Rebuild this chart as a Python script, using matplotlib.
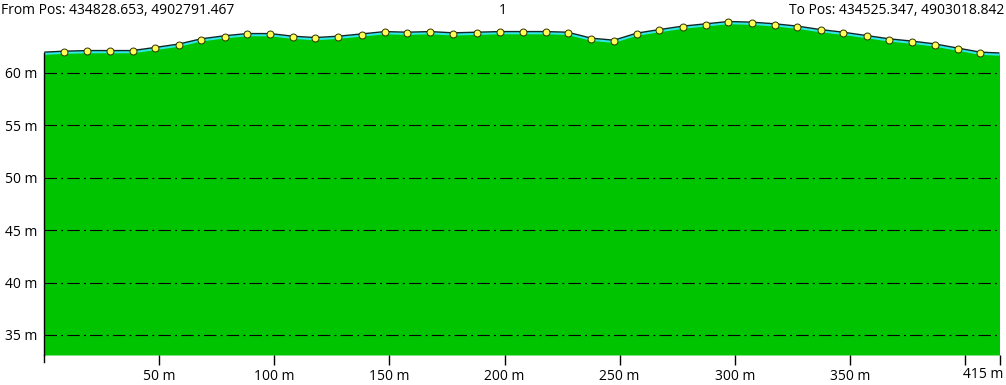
import matplotlib
matplotlib.use("Agg")
import matplotlib.pyplot as plt

# ---- data ----
marker_dist = [8.6, 18.5, 28.6, 38.4, 48.3, 58.4, 68.2, 78.7, 88.2, 98.1,
               108.0, 117.8, 127.8, 138.1, 148.0, 157.7, 167.6, 177.7, 187.9, 198.0,
               207.9, 218.0, 227.4, 237.7, 247.5, 257.4, 267.2, 277.4, 287.5, 297.2,
               307.3, 317.5, 327.2, 337.3, 347.1, 357.3, 367.1, 377.0, 386.8, 397.0, 406.6]
marker_elev = [61.97, 62.03, 62.03, 62.03, 62.33, 62.65, 63.15, 63.45, 63.65, 63.65,
               63.40, 63.27, 63.40, 63.62, 63.84, 63.78, 63.84, 63.72, 63.78, 63.84,
               63.84, 63.84, 63.78, 63.21, 63.02, 63.69, 64.03, 64.36, 64.58, 64.80,
               64.74, 64.58, 64.36, 64.03, 63.78, 63.46, 63.15, 62.93, 62.67, 62.26, 61.88]
start_dist, start_elev = 0.0, 61.88
end_dist, end_elev = 415.0, 61.80

x_ticks = [50, 100, 150, 200, 250, 300, 350, 400, 415]
x_tick_labels = ["50 m", "100 m", "150 m", "200 m", "250 m", "300 m", "350 m", "", ""]
y_grid = [35, 40, 45, 50, 55, 60]
y_labels = ["35 m", "40 m", "45 m", "50 m", "55 m", "60 m"]

title_left = "From Pos: 434828.653, 4902791.467"
title_mid = "1"
title_right = "To Pos: 434525.347, 4903018.842"
end_label = "415 m"

prof_x = [start_dist] + marker_dist + [end_dist]
prof_y = [start_elev] + marker_elev + [end_elev]

plt.rcParams['font.family'] = ['Open Sans', 'DejaVu Sans']
plt.rcParams['lines.scale_dashes'] = False

W, H = 1006, 385
fig = plt.figure(figsize=(W / 100, H / 100), dpi=100)
ax = fig.add_axes([44.2 / W, (H - 355) / H, (999.5 - 44.2) / W, (355 - 15) / H])
ymin, ymax = 33.09, 65.5
ax.set_xlim(0, 415)
ax.set_ylim(ymin, ymax)

green = "#00c400"
ax.fill_between(prof_x, ymin, prof_y, color=green, lw=0, zorder=1)

for g in y_grid:
    ax.plot([0, 415], [g, g], color="black", lw=0.8,
            dashes=(9.0, 3.0, 1.4, 3.0), zorder=2)

ax.plot(prof_x, [v - 0.06 for v in prof_y], color="#30e8e8", lw=1.8, zorder=3,
        solid_capstyle="butt")
ax.plot(prof_x, [v + 0.08 for v in prof_y], color="#102828", lw=1.0, zorder=4,
        solid_capstyle="butt")
ax.plot(marker_dist, marker_elev, ls="none", marker="o", ms=5,
        mfc="#ffff55", mec="#303000", mew=0.7, zorder=5)

# left boundary line
ax.plot([0, 0], [ymin, start_elev], color="black", lw=1.0, zorder=6, clip_on=False)

for s in ax.spines.values():
    s.set_visible(False)

ax.set_xticks(x_ticks)
ax.set_xticklabels(x_tick_labels)
ax.tick_params(axis="x", length=7, width=1, color="black", labelsize=10, pad=3,
               direction="out")
ax.set_yticks(y_grid)
ax.set_yticklabels(y_labels)
ax.tick_params(axis="y", length=0, labelsize=10, pad=5)

fig.text(1003 / W, 1 - 374 / H, end_label, ha="right", va="center", fontsize=10)
fig.text(1 / W, 1 - 10 / H, title_left, ha="left", va="center", fontsize=10)
fig.text(503 / W, 1 - 10 / H, title_mid, ha="center", va="center", fontsize=10)
fig.text(1004 / W, 1 - 10 / H, title_right, ha="right", va="center", fontsize=10)

# vertical tick at x=0 below axes
ax.plot([0, 0], [ymin, ymin - 7 / 10.49], color="black", lw=1.0, clip_on=False)

fig.savefig("out.png", dpi=100, facecolor="white")
